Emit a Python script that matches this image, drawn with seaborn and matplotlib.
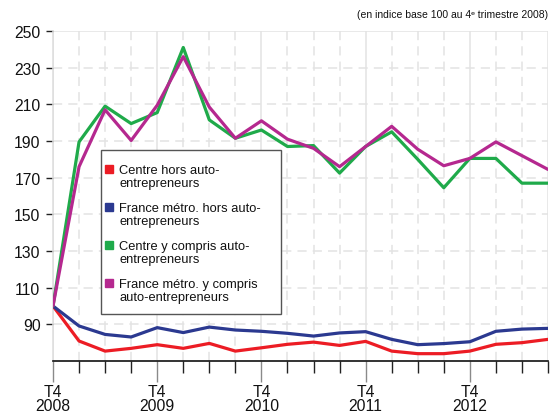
import numpy as np
import pandas as pd
import matplotlib
matplotlib.use("Agg")
import matplotlib.pyplot as plt
from matplotlib.lines import Line2D
from matplotlib.patches import Rectangle
from matplotlib.legend_handler import HandlerLine2D
import seaborn as sns

# quarters from T4 2008 to T3 2013
quarters = ["T4 2008", "T1 2009", "T2 2009", "T3 2009", "T4 2009", "T1 2010", "T2 2010",
            "T3 2010", "T4 2010", "T1 2011", "T2 2011", "T3 2011", "T4 2011", "T1 2012",
            "T2 2012", "T3 2012", "T4 2012", "T1 2013", "T2 2013", "T3 2013"]

centre_hors = [100, 80.9, 75.4, 76.9, 78.9, 76.9, 79.6, 75.4, 77.2, 79.1,
               80.3, 78.5, 80.7, 75.4, 74.0, 74.0, 75.4, 79.1, 80.0, 81.8]
france_hors = [100, 89.1, 84.5, 83.1, 88.2, 85.5, 88.5, 86.9, 86.2, 85.1,
               83.6, 85.3, 86.0, 81.8, 78.9, 79.5, 80.5, 86.2, 87.4, 87.8]
centre_y = [100, 189.5, 209, 199.5, 205.5, 241, 201.5, 191.5, 196, 187,
            187.5, 172.5, 187, 195, 180, 164.5, 180.5, 180.5, 167, 167]
france_y = [100, 176, 207, 190.3, 209.5, 236, 208.5, 191.5, 201, 191,
            186, 176, 187, 198, 185.5, 176.5, 180.5, 189.5, 182, 174.5]

series_names = ["Centre hors auto-\nentrepreneurs",
                "France métro. hors auto-\nentrepreneurs",
                "Centre y compris auto-\nentrepreneurs",
                "France métro. y compris\nauto-entrepreneurs"]
colors = ["#ec1c24", "#2b3990", "#1faa4a", "#b5288f"]

year_ticks = [0, 4, 8, 12, 16]
year_labels = ["T4\n2008", "T4\n2009", "T4\n2010", "T4\n2011", "T4\n2012"]
y_ticks = [90, 110, 130, 150, 170, 190, 210, 230, 250]


# legend marker sits on the first line of the label
class TopMarker(HandlerLine2D):
    def create_artists(self, legend, orig_handle, xdescent, ydescent, width, height,
                       fontsize, trans):
        arts = super().create_artists(legend, orig_handle, xdescent, ydescent, width,
                                      height, fontsize, trans)
        for a in arts:
            a.set_ydata(np.asarray(a.get_ydata()) + 0.55 * fontsize)
        return arts


# long table for seaborn
rows = []
for name, vals in zip(series_names, [centre_hors, france_hors, centre_y, france_y]):
    for i, v in enumerate(vals):
        rows.append({"pos": i, "trimestre": quarters[i], "indice": v, "serie": name})
df = pd.DataFrame(rows)

sns.set_theme(style="white")
plt.rcParams["font.family"] = ["Liberation Sans", "DejaVu Sans"]

fig = plt.figure(figsize=(5.54, 4.14), dpi=100)
ax = fig.add_axes([53 / 554, 1 - 362 / 414, 495 / 554, 330 / 414])

# grid: dashed for quarters and values, solid for years
for x in range(len(quarters)):
    if x in year_ticks or x == len(quarters) - 1:
        ax.axvline(x, color="#e3e3e3", lw=1.1, zorder=0)
    else:
        ax.axvline(x, color="#e3e3e3", lw=1.1, ls=(0, (6, 4)), zorder=0)
for y in y_ticks[:-1]:
    ax.axhline(y, color="#e3e3e3", lw=1.1, ls=(0, (6, 4)), zorder=0)
ax.axhline(250, color="#e3e3e3", lw=1.1, zorder=0)

sns.lineplot(data=df, x="pos", y="indice", hue="serie", hue_order=series_names,
             palette=colors, linewidth=2.3, legend=False, ax=ax, zorder=3)

ax.set_xlim(0, len(quarters) - 1)
ax.set_ylim(70, 250)
ax.set_xlabel("")
ax.set_ylabel("")

ax.set_yticks(y_ticks)
ax.set_yticklabels([str(v) for v in y_ticks])
ax.tick_params(axis="y", length=5, width=1, color="#222222", pad=4,
               labelsize=11.3, labelcolor="#111111", left=True)

ax.set_xticks(year_ticks)
ax.set_xticklabels(year_labels, linespacing=0.95)
ax.set_xticks([i for i in range(1, len(quarters)) if i not in year_ticks], minor=True)
ax.tick_params(axis="x", which="major", length=15, width=1, color="#8a8a8a", pad=1.5,
               labelsize=11.3, labelcolor="#111111", bottom=True)
ax.tick_params(axis="x", which="minor", length=8.5, width=1, color="#222222", bottom=True)

ax.spines["left"].set_color("#dddddd")
ax.spines["left"].set_linewidth(1.1)
ax.spines["top"].set_visible(False)
ax.spines["right"].set_visible(False)
ax.spines["bottom"].set_color("#111111")
ax.spines["bottom"].set_linewidth(1.2)

# legend box
ax.add_patch(Rectangle((0.097, 0.142), 0.364, 0.497, transform=ax.transAxes,
                       facecolor="white", edgecolor="#555555", lw=1.0, zorder=4))
handles = [Line2D([], [], ls="", marker="s", markersize=5.2, color=c) for c in colors]
leg = ax.legend(handles, series_names, loc="upper left", bbox_to_anchor=(0.097, 0.611),
                fontsize=9.3, frameon=False, borderpad=0.35, labelspacing=0.98,
                handlelength=0.6, handletextpad=0.45, borderaxespad=0,
                handler_map={Line2D: TopMarker()})
leg.set_zorder(5)
for t in leg.get_texts():
    t.set_linespacing(1.15)
    t.set_color("#111111")

fig.text(548 / 554, 1 - 15 / 414, "(en indice base 100 au 4ᵉ trimestre 2008)",
         ha="right", va="center", fontsize=7.5, color="#111111")

fig.savefig("out.png", dpi=100, facecolor="white")
